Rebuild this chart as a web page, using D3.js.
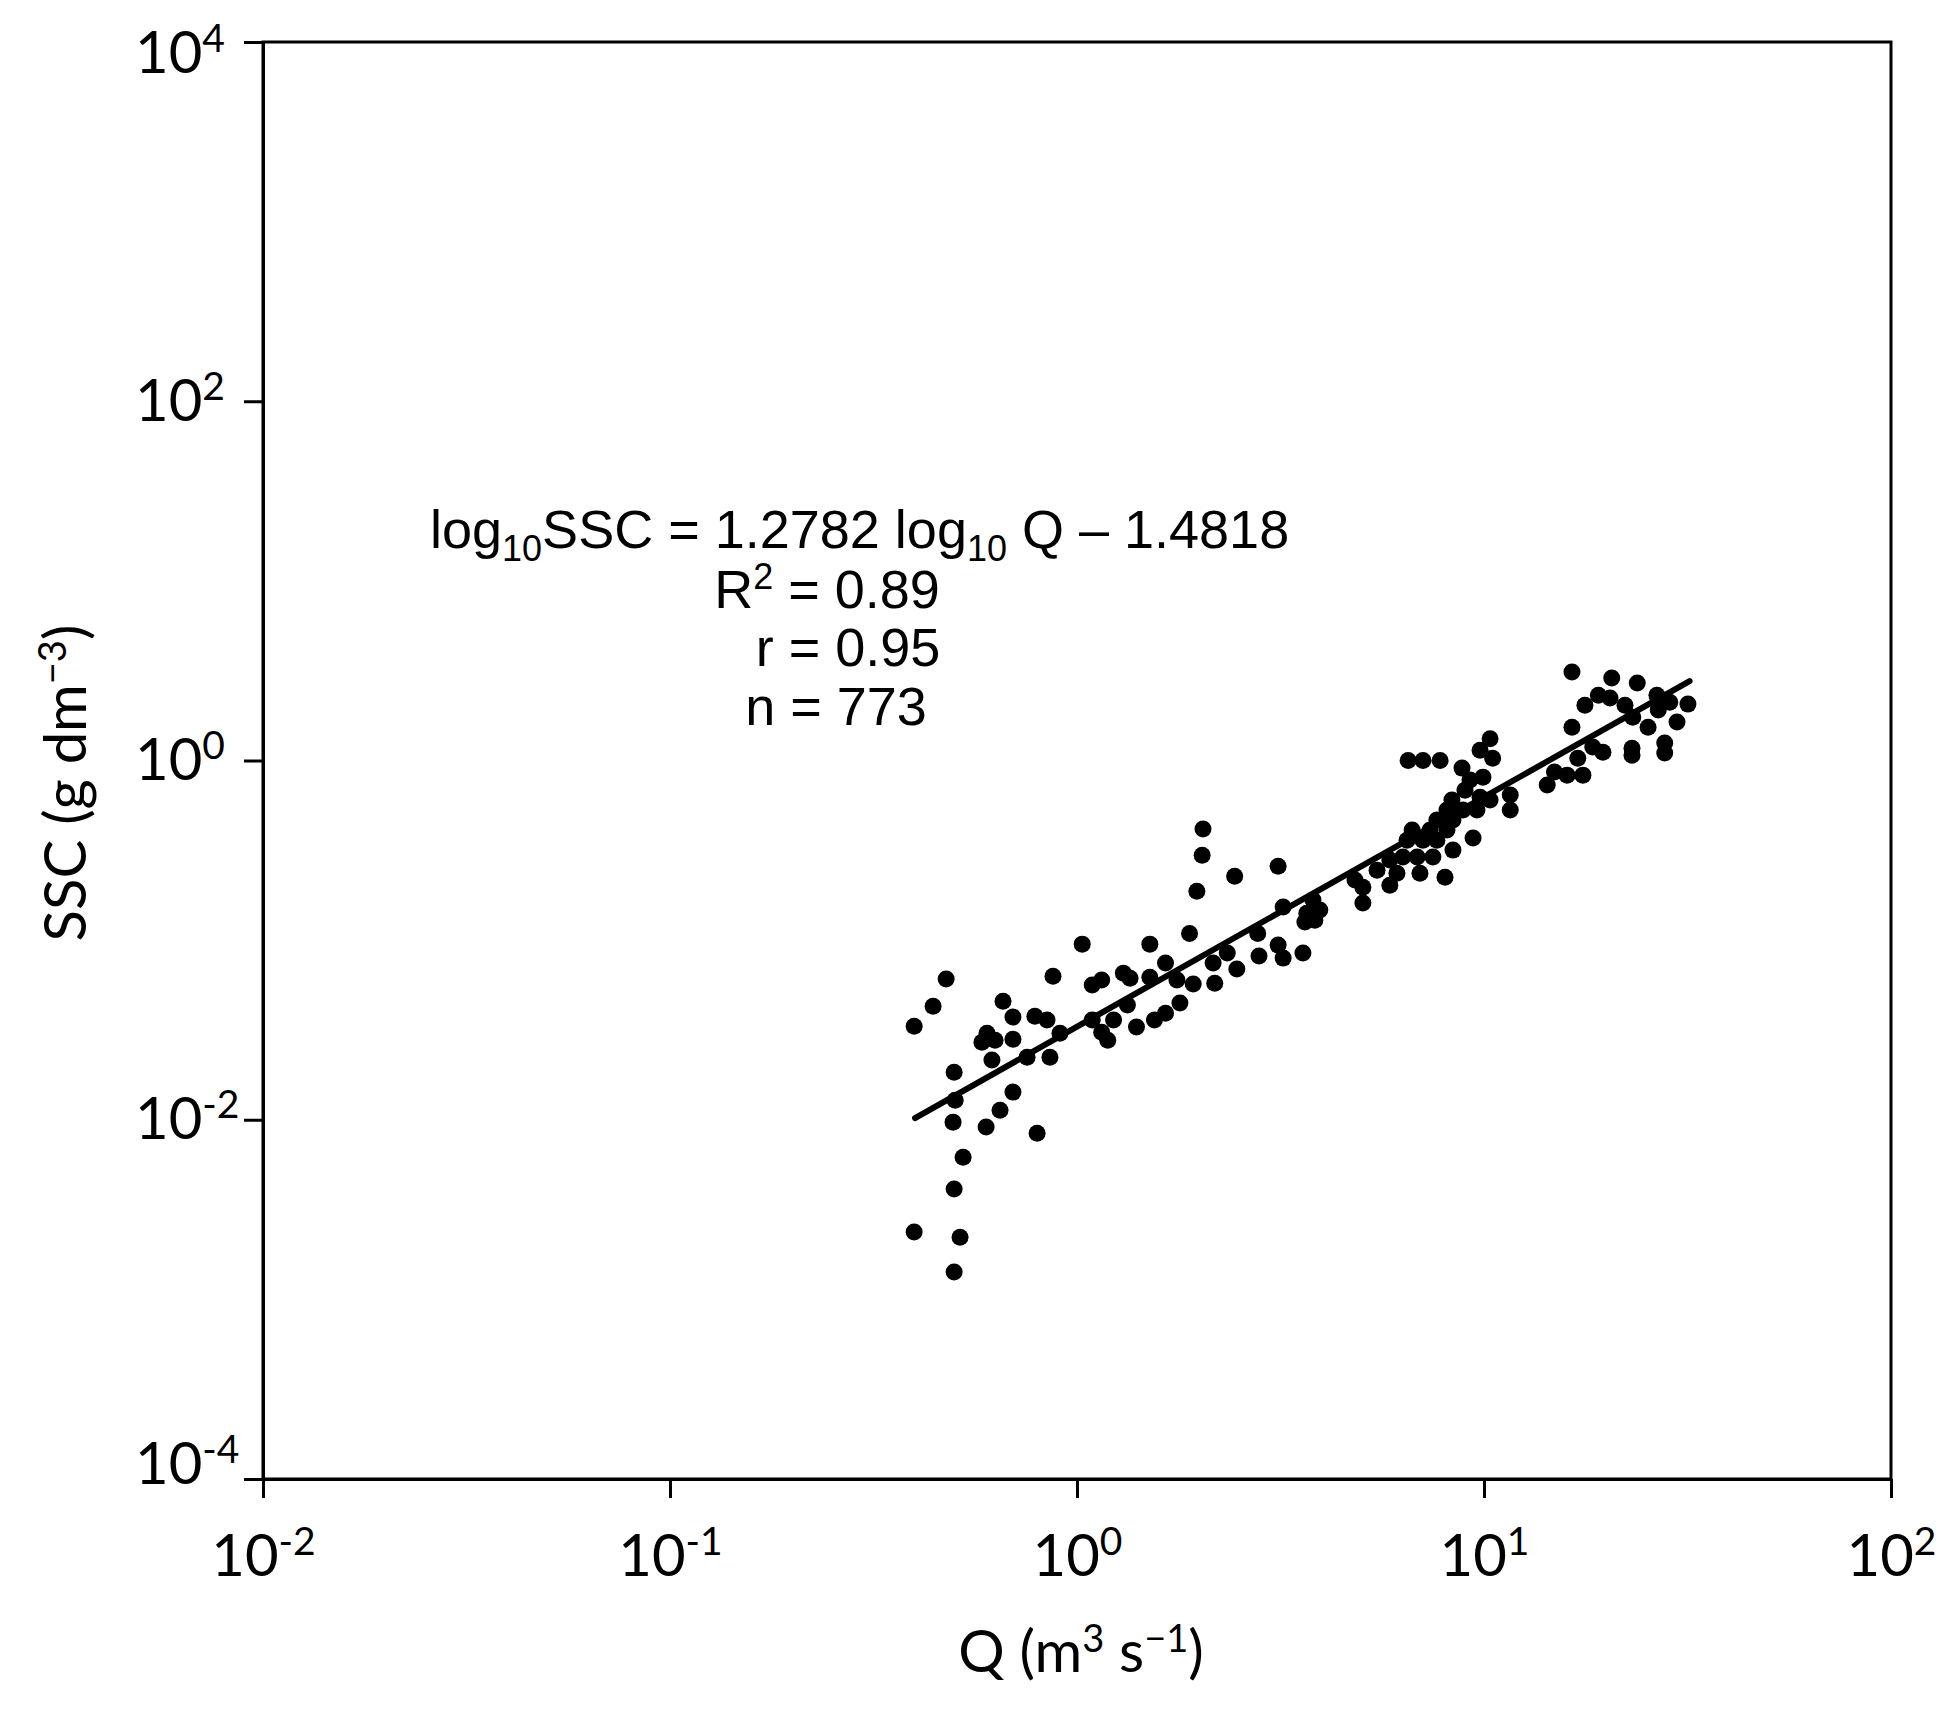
<!DOCTYPE html>
<html><head><meta charset="utf-8">
<script src="https://cdn.jsdelivr.net/npm/d3@7"></script>
<style>body{margin:0;background:#fff}</style>
</head><body>
<svg id="chart" width="1953" height="1719"></svg>
<script>
// ---- data ----
const qValues = [
  0.477,0.443,0.398,0.658,0.696,0.601,0.584,0.629,0.696,0.788,0.844,0.908,0.618,0.754,0.858,0.499,0.502,0.696,0.496,0.647,0.598,0.798,0.525,0.499,0.398,0.516,0.499,
  2.04,2.03,2.44,3.12,1.97,1.89,1.03,1.51,0.873,1.09,1.15,1.30,1.35,1.51,1.65,1.76,1.79,1.93,2.18,2.16,2.34,2.47,2.78,2.80,3.12,3.21,3.59,3.21,1.55,1.65,1.40,1.23,1.19,1.33,1.09,1.15,
  16.45,20.6,23.8,17.7,19.1,20.4,22.2,23.2,25.3,26.6,26.8,28.6,31.7,29.8,16.45,18.5,19.6,23.1,23.1,27.8,27.8,17.0,17.5,16.0,14.9,5.04,5.04,4.82,3.80,3.84,3.95,3.67,3.63,
  6.51,7.08,7.80,10.35,10.5,9.78,8.83,9.24,9.94,8.98,9.78,10.35,8.34,8.11,8.88,9.61,7.66,8.39,7.37,8.11,6.66,6.47,7.08,7.66,8.39,7.49,6.85,6.32,5.87,6.11,6.96,8.02,5.46,5.87,9.40,11.6,11.6,14.3
];
const sscValues = [
  0.0607,0.0429,0.0332,0.0457,0.0373,0.0303,0.0270,0.0277,0.0281,0.0377,0.0359,0.0303,0.0215,0.0223,0.0223,0.0184,0.01285,0.01425,0.0097,0.01131,0.0091,0.00842,0.00619,0.00411,0.00237,0.00222,0.00142,
  0.415,0.297,0.227,0.258,0.187,0.109,0.095,0.095,0.063,0.0562,0.0599,0.0655,0.0614,0.0622,0.0745,0.0599,0.0446,0.0569,0.0576,0.0745,0.0847,0.069,0.109,0.0815,0.0938,0.0794,0.0847,0.153,0.0359,0.0392,0.0328,0.0359,0.0277,0.0435,0.0359,0.0307,
  3.11,2.88,2.70,2.03,2.31,2.23,2.03,1.74,1.53,2.31,1.91,2.11,2.06,1.64,1.53,1.19,1.11,1.17,1.07,1.25,1.10,1.03,0.829,0.829,0.862,0.197,0.161,0.216,0.167,0.129,0.147,0.141,0.126,
  1.00,1.00,1.00,1.32,1.03,1.14,0.907,0.778,0.808,0.684,0.625,0.602,0.602,0.530,0.530,0.530,0.466,0.466,0.410,0.410,0.410,0.360,0.360,0.360,0.317,0.290,0.290,0.290,0.279,0.236,0.236,0.224,0.245,0.202,0.370,0.642,0.530,0.730
];
const xTickValues = [0.01, 0.1, 1, 10, 100];
const xTickExponents = ["-2", "-1", "0", "1", "2"];
const yTickValues = [1e4, 1e2, 1, 1e-2, 1e-4];
const yTickExponents = ["4", "2", "0", "-2", "-4"];
const fitSlope = 1.2782;
const fitIntercept = -1.4818;
const fitQRange = [0.4, 32];
const statTexts = ["0.89", "r = 0.95", "n = 773"];

// ---- layout ----
const W = 1953, H = 1719;
const m = {left: 263, right: 1891, top: 42, bottom: 1479};
const tickFont = "Lato, 'Open Sans', sans-serif";
const annFont = "'Liberation Sans', Arial, sans-serif";

const x = d3.scaleLog().domain([1e-2, 1e2]).range([m.left, m.right]);
const y = d3.scaleLog().domain([1e-4, 1e4]).range([m.bottom, m.top]);

const svg = d3.select("#chart");
svg.append("rect").attr("width", W).attr("height", H).attr("fill", "#fff");

// frame
svg.append("rect")
  .attr("x", m.left).attr("y", m.top)
  .attr("width", m.right - m.left).attr("height", m.bottom - m.top)
  .attr("fill", "none").attr("stroke", "#000").attr("stroke-width", 3);

// x axis
const xAxis = svg.append("g").attr("transform", `translate(0,${m.bottom})`)
  .call(d3.axisBottom(x).tickValues(xTickValues).tickSize(19).tickSizeOuter(0).tickFormat(""));
xAxis.select(".domain").attr("stroke", "#000").attr("stroke-width", 3);
xAxis.selectAll(".tick line").attr("stroke", "#000").attr("stroke-width", 3);
xAxis.selectAll(".tick text").each(function(d, i) {
  const t = d3.select(this);
  t.attr("y", 97).attr("dy", null).attr("text-anchor", "middle")
   .attr("font-family", tickFont).attr("font-size", 58).attr("fill", "#000");
  t.append("tspan").text("10");
  t.append("tspan").attr("font-size", 39).attr("dy", -21).text(xTickExponents[i]);
});

// y axis
const yAxis = svg.append("g").attr("transform", `translate(${m.left},0)`)
  .call(d3.axisLeft(y).tickValues(yTickValues).tickSize(19).tickSizeOuter(0).tickFormat(""));
yAxis.select(".domain").attr("stroke", "#000").attr("stroke-width", 3);
yAxis.selectAll(".tick line").attr("stroke", "#000").attr("stroke-width", 3);
yAxis.selectAll(".tick text").each(function(d, i) {
  const t = d3.select(this);
  const py = y(d);
  const base = Math.min(Math.max(py + 19, m.top + 30), m.bottom + 4) - py;
  t.attr("x", 135 - m.left).attr("y", base).attr("dy", null).attr("text-anchor", "start")
   .attr("font-family", tickFont).attr("font-size", 58).attr("fill", "#000");
  t.append("tspan").text("10");
  t.append("tspan").attr("font-size", 39).attr("dy", -21).text(yTickExponents[i]);
});

// axis titles
const xt = svg.append("text").attr("x", 1081).attr("y", 1672).attr("text-anchor", "middle")
  .attr("font-family", tickFont).attr("font-size", 58).attr("fill", "#000");
xt.append("tspan").text("Q (m");
xt.append("tspan").attr("font-size", 38).attr("dy", -20).text("3");
xt.append("tspan").attr("dy", 20).text(" s");
xt.append("tspan").attr("font-size", 38).attr("dy", -20).text("\u22121");
xt.append("tspan").attr("dy", 20).text(")");

const yt = svg.append("text").attr("transform", "translate(86,783) rotate(-90)").attr("text-anchor", "middle")
  .attr("font-family", tickFont).attr("font-size", 58).attr("fill", "#000");
yt.append("tspan").text("SSC (g dm");
yt.append("tspan").attr("font-size", 38).attr("dy", -20).text("\u22123");
yt.append("tspan").attr("dy", 20).text(")");

// points
svg.append("g").selectAll("circle")
  .data(qValues.map((q, i) => [q, sscValues[i]]))
  .join("circle")
  .attr("cx", d => x(d[0])).attr("cy", d => y(d[1]))
  .attr("r", 8.5).attr("fill", "#000");

// fit line
const fitPts = fitQRange.map(q => [q, Math.pow(10, fitSlope * Math.log10(q) + fitIntercept)]);
svg.append("path")
  .attr("d", d3.line().x(d => x(d[0])).y(d => y(d[1]))(fitPts))
  .attr("stroke", "#000").attr("stroke-width", 6).attr("fill", "none").attr("stroke-linecap", "round");

// annotation
const a1 = svg.append("text").attr("x", 430).attr("y", 548).attr("text-anchor", "start")
  .attr("font-family", annFont).attr("font-size", 54).attr("fill", "#000").style("white-space", "pre");
a1.append("tspan").text("log");
a1.append("tspan").attr("font-size", 36).attr("dy", 13).text("10");
a1.append("tspan").attr("dy", -13).text("SSC = " + fitSlope.toFixed(4) + " log");
a1.append("tspan").attr("font-size", 36).attr("dy", 13).text("10");
a1.append("tspan").attr("dy", -13).text(" Q \u2013 " + Math.abs(fitIntercept).toFixed(4));

const a2 = svg.append("text").attr("x", 827).attr("y", 608).attr("text-anchor", "middle")
  .attr("font-family", annFont).attr("font-size", 54).attr("fill", "#000").style("white-space", "pre");
a2.append("tspan").text("R");
a2.append("tspan").attr("font-size", 36).attr("dy", -19).text("2");
a2.append("tspan").attr("dy", 19).text(" = " + statTexts[0]);

svg.append("text").attr("x", 848).attr("y", 666).attr("text-anchor", "middle")
  .attr("font-family", annFont).attr("font-size", 54).attr("fill", "#000").text(statTexts[1]);
svg.append("text").attr("x", 836).attr("y", 725).attr("text-anchor", "middle")
  .attr("font-family", annFont).attr("font-size", 54).attr("fill", "#000").text(statTexts[2]);
</script>
</body></html>
